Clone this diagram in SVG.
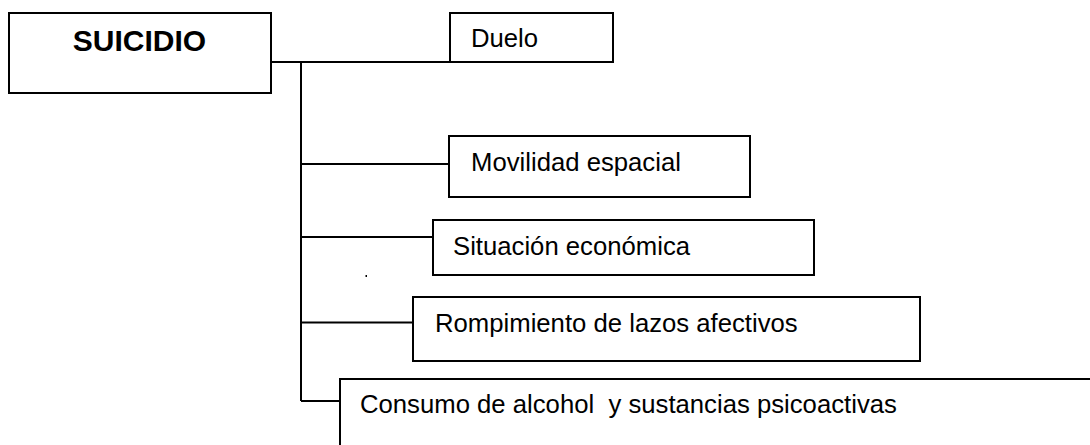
<svg xmlns="http://www.w3.org/2000/svg" width="1090" height="445" viewBox="0 0 1090 445">
<style>
.box{fill:#fff;stroke:#000;stroke-width:2}
.ln{fill:none;stroke:#000;stroke-width:2}
.t{font-family:"Liberation Sans",Arial,sans-serif;font-size:25.7px;fill:#000;white-space:pre}
.h{font-family:"Liberation Sans",Arial,sans-serif;font-size:30px;font-weight:bold;fill:#000}
</style>
<rect width="1090" height="445" fill="#fff"/>
<g id="connectors">
<path class="ln" d="M271,62 H450 M301,62 V401 M301,164 H449 M301,237 H433 M301,322.5 H413 M301,401 H340"/>
</g>
<g id="suicidio">
<rect class="box" x="9" y="13" width="262" height="80"/>
<text class="h" x="139.5" y="51" text-anchor="middle">SUICIDIO</text>
</g>
<g id="duelo">
<rect class="box" x="450" y="13" width="163" height="49"/>
<text class="t" x="471" y="47">Duelo</text>
</g>
<g id="movilidad">
<rect class="box" x="449" y="136" width="301" height="61"/>
<text class="t" x="471" y="171">Movilidad espacial</text>
</g>
<g id="situacion">
<rect class="box" x="433" y="220" width="381" height="55"/>
<text class="t" x="453" y="255">Situación económica</text>
</g>
<g id="rompimiento">
<rect class="box" x="413" y="297" width="507" height="64"/>
<text class="t" x="435" y="332">Rompimiento de lazos afectivos</text>
</g>
<g id="consumo">
<rect class="box" x="340" y="379" width="770" height="90"/>
<text class="t" x="360" y="413" xml:space="preserve">Consumo de alcohol  y sustancias psicoactivas</text>
</g>
<g id="dot">
<rect x="365.5" y="275" width="1.5" height="2" fill="#000"/>
</g>
</svg>
